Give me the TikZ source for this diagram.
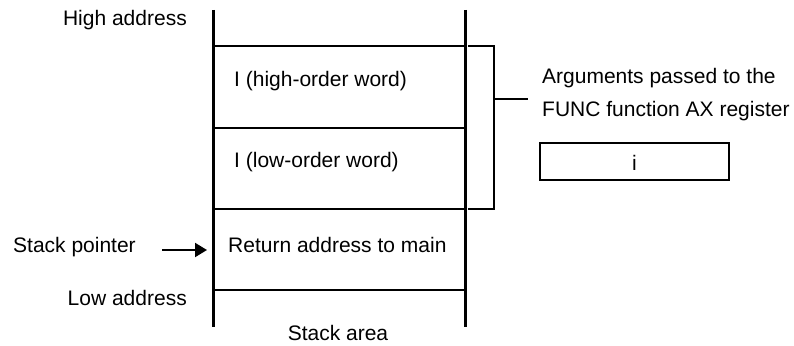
\documentclass[tikz,border=0pt]{standalone}
\usepackage{fontspec}
\setmainfont{Liberation Sans}
\usetikzlibrary{arrows.meta}
\begin{document}
\begin{tikzpicture}[x=1pt,y=-1pt,
  lbl/.style={inner sep=0pt,font=\fontsize{21}{25}\selectfont},
  thick rule/.style={line width=3pt},
  thin rule/.style={line width=2pt}]
\useasboundingbox (0,0) rectangle (794,345);
% stack walls
\coordinate (LT) at (213,10); \coordinate (LB) at (213,327);
\coordinate (RT) at (465,10); \coordinate (RB) at (465,327);
\draw[thick rule] (LT) -- (LB);
\draw[thick rule] (RT) -- (RB);
% cell separators
\coordinate (h1l) at (213,46);  \coordinate (h1r) at (465,46);
\coordinate (h2l) at (213,128); \coordinate (h2r) at (465,128);
\coordinate (h3l) at (213,209); \coordinate (h3r) at (465,209);
\coordinate (h4l) at (213,290); \coordinate (h4r) at (465,290);
\draw[thin rule] (h1l) -- (h1r);
\draw[thin rule] (h2l) -- (h2r);
\draw[thin rule] (h3l) -- (h3r);
\draw[thin rule] (h4l) -- (h4r);
% bracket
\coordinate (bt0) at (468,46); \coordinate (bt1) at (494,46);
\coordinate (bb0) at (468,209); \coordinate (bb1) at (494,209);
\coordinate (bm0) at (494,99); \coordinate (bm1) at (528,99);
\draw[thin rule] (bt0) -- (bt1) -- (bb1) -- (bb0);
\draw[thin rule] (bm0) -- (bm1);
% texts
\node[lbl,anchor=base east] (hi) at (187,26) {High address};
\node[lbl,anchor=base east] (lo) at (187,305) {Low address};
\node[lbl,anchor=base west] (sp) at (13,252) {Stack pointer};
\node[lbl,anchor=base west] (c1) at (234,86) {I (high-order word)};
\node[lbl,anchor=base west] (c2) at (234,167) {I (low-order word)};
\node[lbl,anchor=base west] (c3) at (228,252) {Return address to main};
\node[lbl,anchor=base] (sa) at (338,340) {Stack area};
\node[lbl,anchor=base west] (a1) at (542,83) {Arguments passed to the};
\node[lbl,anchor=base west] (a2) at (542,116) {FUNC function AX register};
\draw[thin rule] (540,143) rectangle (729,180);
\node[lbl,anchor=base] (ax) at (634.5,170) {i};
% stack pointer arrow
\coordinate (as) at (162,250); \coordinate (ae) at (207,250);
\draw[thin rule,-{Triangle[length=12pt,width=14pt]}] (as) -- (ae);
\end{tikzpicture}
\end{document}
